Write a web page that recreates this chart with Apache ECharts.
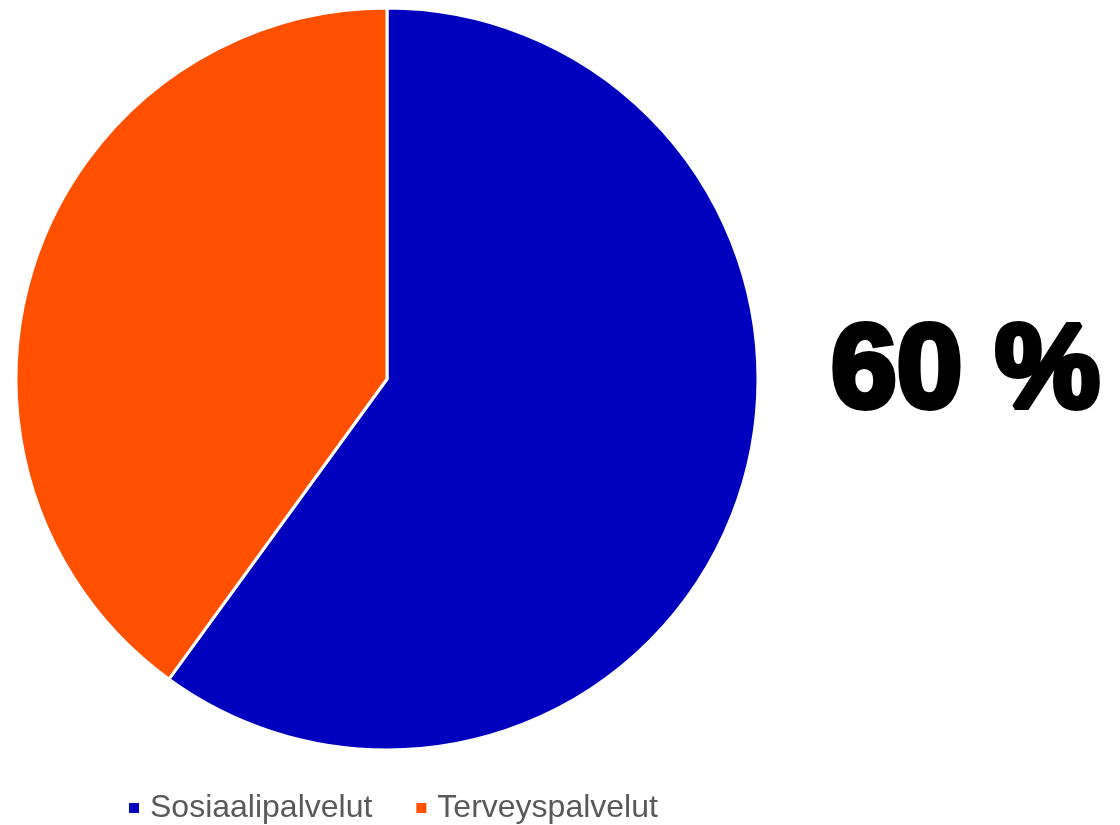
<!DOCTYPE html>
<html>
<head>
<meta charset="utf-8">
<script src="https://cdn.jsdelivr.net/npm/echarts@6/dist/echarts.min.js"></script>
<style>
html,body{margin:0;padding:0;background:#fff;}
#chart{width:1120px;height:825px;}
</style>
</head>
<body>
<div id="chart"></div>
<script>
const categories = ['Sosiaalipalvelut', 'Terveyspalvelut'];
const values = [60, 40];
const colors = ['#0000BF', '#FF5000'];

const total = values.reduce((a, b) => a + b, 0);
const mainLabel = Math.round(values[0] / total * 100) + ' %';

const chart = echarts.init(document.getElementById('chart'));
chart.setOption({
  animation: false,
  color: colors,
  legend: {
    data: categories,
    left: 122,
    top: 787,
    icon: 'rect',
    itemWidth: 12,
    itemHeight: 12,
    itemGap: 42,
    textStyle: { fontFamily: 'Liberation Sans, Arial, sans-serif', fontSize: 32, color: '#595959', padding: [0, 0, 0, 5] }
  },
  graphic: [{
    type: 'text',
    left: 828,
    top: 312,
    style: {
      text: mainLabel,
      font: 'bold 118px "Liberation Sans", Arial, sans-serif',
      fill: '#000',
      stroke: '#000',
      lineWidth: 6
    }
  }],
  series: [{
    type: 'pie',
    center: [387, 379],
    radius: [0, 371],
    startAngle: 90,
    clockwise: true,
    label: { show: false },
    labelLine: { show: false },
    itemStyle: { borderColor: '#fff', borderWidth: 3 },
    emphasis: { disabled: true },
    data: categories.map((c, i) => ({ name: c, value: values[i] }))
  }]
});
</script>
</body>
</html>
